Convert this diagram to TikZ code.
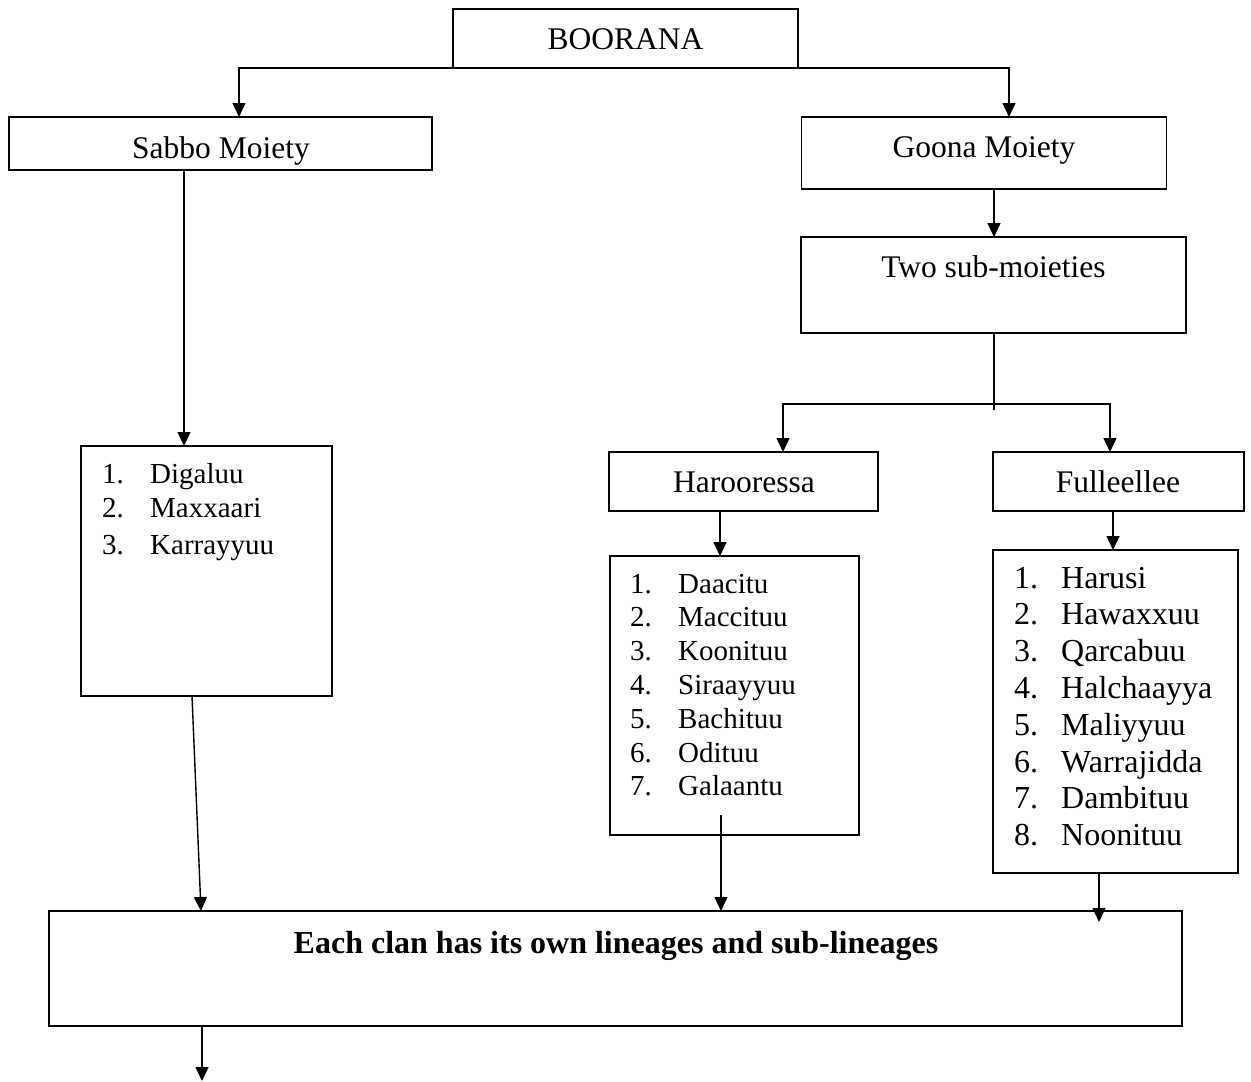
\documentclass[tikz,border=0pt]{standalone}
\usepackage{fontspec}
\setmainfont{Liberation Serif}
\usetikzlibrary{arrows.meta}
\begin{document}
\begin{tikzpicture}[x=1pt,y=-1pt,
  box/.style={draw, line width=1.4pt, inner sep=0pt, outer sep=0pt, rectangle},
  conn/.style={line width=1.4pt},
  arr/.style={conn, -{Triangle[length=14pt,width=13pt]}},
  lbl/.style={anchor=base, inner sep=0pt, font=\fontsize{31.5}{36}\selectfont},
  bold/.style={anchor=base, inner sep=0pt, font=\fontsize{32}{38}\selectfont\bfseries},
  itemA/.style={anchor=base west, inner sep=0pt, font=\fontsize{29}{34}\selectfont},
  itemB/.style={anchor=base west, inner sep=0pt, font=\fontsize{32}{37}\selectfont}]
\useasboundingbox (0,0) rectangle (1251,1082);
% boxes
\node[box, minimum width=345pt, minimum height=59pt] (boorana) at (625.5,38.5) {};
\node[box, minimum width=423pt, minimum height=53pt] (sabbo) at (220.5,143.5) {};
\node[box, minimum width=365pt, minimum height=72pt] (goona) at (984,153) {};
\node[box, minimum width=385pt, minimum height=96pt] (two) at (993.5,285) {};
\node[box, minimum width=269pt, minimum height=59pt] (haroo) at (743.5,481.5) {};
\node[box, minimum width=251pt, minimum height=59pt] (full) at (1118.5,481.5) {};
\node[box, minimum width=251pt, minimum height=250pt] (sabbolist) at (206.5,571) {};
\node[box, minimum width=249pt, minimum height=279pt] (haroolist) at (734.5,695.5) {};
\node[box, minimum width=245pt, minimum height=323pt] (fulllist) at (1115.5,711.5) {};
\node[box, minimum width=1133pt, minimum height=115pt] (big) at (615.5,968.5) {};
% texts
\node[lbl] (tboorana) at (625.5,49) {BOORANA};
\node[lbl] (tsabbo) at (221,158) {Sabbo Moiety};
\node[lbl] (tgoona) at (984,157) {Goona Moiety};
\node[lbl] (ttwo) at (993.5,277) {Two sub-moieties};
\node[lbl] (tharoo) at (744,492) {Harooressa};
\node[lbl] (tfull) at (1118,492) {Fulleellee};
\node[bold] (tbig) at (616,953) {Each clan has its own lineages and sub-lineages};
% lists
\node[itemA] (sn1) at (102,483) {1.};
\node[itemA] (st1) at (150,483) {Digaluu};
\node[itemA] (sn2) at (102,517) {2.};
\node[itemA] (st2) at (150,517) {Maxxaari};
\node[itemA] (sn3) at (102,554) {3.};
\node[itemA] (st3) at (150,554) {Karrayyuu};
\foreach \t [count=\i] in {Daacitu,Maccituu,Koonituu,Siraayyuu,Bachituu,Odituu,Galaantu}{
  \node[itemA] (hn\i) at (630,{593+(\i-1)*33.8}) {\i.};
  \node[itemA] (ht\i) at (678,{593+(\i-1)*33.8}) {\t};
}
\foreach \t [count=\i] in {Harusi,Hawaxxuu,Qarcabuu,Halchaayya,Maliyyuu,Warrajidda,Dambituu,Noonituu}{
  \node[itemB] (fn\i) at (1014,{588+(\i-1)*36.8}) {\i.};
  \node[itemB] (ft\i) at (1061,{588+(\i-1)*36.8}) {\t};
}
% helper coordinates
\coordinate (c1) at (239,0);
\coordinate (c2) at (1009,0);
\coordinate (c3) at (184,0);
\coordinate (c4) at (994,0);
\coordinate (split) at (994,404);
\coordinate (splitend) at (994,410);
\coordinate (c5) at (783,0);
\coordinate (c6) at (1110,0);
\coordinate (c7) at (720,0);
\coordinate (c8) at (1113,0);
\coordinate (c9) at (192,0);
\coordinate (c10) at (201,0);
\coordinate (hout) at (721,815);
\coordinate (c11) at (1099,0);
\coordinate (fend) at (1099,922);
\coordinate (c12) at (202,0);
\coordinate (outend) at (202,1081);
% connectors
\draw[arr] (boorana.south west) -| (sabbo.north -| c1);
\draw[arr] (boorana.south east) -| (goona.north -| c2);
\draw[arr] (sabbo.south -| c3) -- (sabbolist.north -| c3);
\draw[arr] (goona.south -| c4) -- (two.north -| c4);
\draw[conn] (two.south -| c4) -- (splitend);
\draw[arr] (split) -| (haroo.north -| c5);
\draw[arr] (split) -| (full.north -| c6);
\draw[arr] (haroo.south -| c7) -- (haroolist.north -| c7);
\draw[arr] (full.south -| c8) -- (fulllist.north -| c8);
\draw[arr] (sabbolist.south -| c9) -- (big.north -| c10);
\draw[arr] (hout) -- (big.north -| hout);
\draw[arr] (fulllist.south -| c11) -- (fend);
\draw[arr] (big.south -| c12) -- (outend);
\end{tikzpicture}
\end{document}
